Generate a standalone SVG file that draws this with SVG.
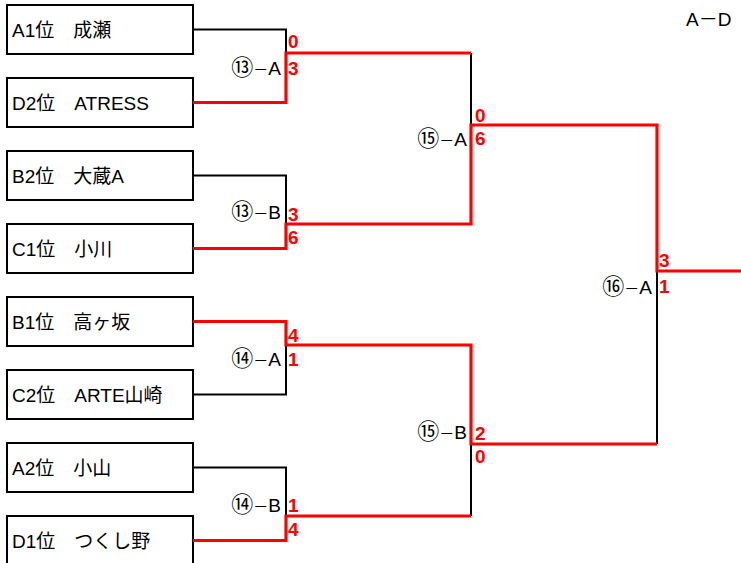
<svg xmlns="http://www.w3.org/2000/svg" width="741" height="563" viewBox="0 0 741 563">
<style>
.box{fill:#fff;stroke:#000;stroke-width:2}
.nm{font-family:"Liberation Sans","Noto Sans CJK JP",sans-serif;font-size:19px;fill:#000}
.lb{font-family:"Liberation Sans","Noto Sans CJK JP",sans-serif;font-size:19px;fill:#000;text-anchor:end}
.cn{font-size:22px}
.ds{font-size:15px}
.sc{font-family:"Liberation Sans","Noto Sans CJK JP",sans-serif;font-size:19px;font-weight:bold;fill:#f00}
.bk{fill:none;stroke:#000;stroke-width:2}
.rd{fill:none;stroke:#f00;stroke-width:3.2}
</style>
<rect width="741" height="563" fill="#fff"/>
<g id="n1"><rect class="box" x="7" y="5" width="186" height="49"/><text class="nm" x="12" y="37">A1位　成瀬</text></g>
<g id="n2"><rect class="box" x="7" y="78" width="186" height="49"/><text class="nm" x="12" y="110">D2位　ATRESS</text></g>
<g id="n3"><rect class="box" x="7" y="151" width="186" height="49"/><text class="nm" x="12" y="183">B2位　大蔵A</text></g>
<g id="n4"><rect class="box" x="7" y="224" width="186" height="49"/><text class="nm" x="12" y="256">C1位　小川</text></g>
<g id="n5"><rect class="box" x="7" y="297" width="186" height="49"/><text class="nm" x="12" y="329">B1位　高ヶ坂</text></g>
<g id="n6"><rect class="box" x="7" y="370" width="186" height="49"/><text class="nm" x="12" y="402">C2位　ARTE山崎</text></g>
<g id="n7"><rect class="box" x="7" y="443" width="186" height="49"/><text class="nm" x="12" y="475">A2位　小山</text></g>
<g id="n8"><rect class="box" x="7" y="516" width="186" height="49"/><text class="nm" x="12" y="548">D1位　つくし野</text></g>
<g id="connectors">
<path class="bk" d="M193 29.5H286V53"/>
<path class="bk" d="M471 53V125"/>
<path class="bk" d="M193 175.5H286V224"/>
<path class="bk" d="M193 394.5H286V345"/>
<path class="bk" d="M193 467.5H286V516"/>
<path class="bk" d="M471 516V444"/>
<path class="bk" d="M657 444V271"/>
<path class="rd" d="M193 102.5H286V53H471"/>
<path class="rd" d="M193 248.5H286V224H471V125H657V271H741"/>
<path class="rd" d="M193 321.5H286V345H471V444H657"/>
<path class="rd" d="M193 540.5H286V516H471"/>
</g>
<g id="labels">
<text class="lb" x="281" y="75"><tspan class="cn">⑬</tspan><tspan class="ds">－</tspan>A</text>
<text class="lb" x="281" y="219"><tspan class="cn">⑬</tspan><tspan class="ds">－</tspan>B</text>
<text class="lb" x="281" y="366"><tspan class="cn">⑭</tspan><tspan class="ds">－</tspan>A</text>
<text class="lb" x="281" y="512"><tspan class="cn">⑭</tspan><tspan class="ds">－</tspan>B</text>
<text class="lb" x="467" y="146"><tspan class="cn">⑮</tspan><tspan class="ds">－</tspan>A</text>
<text class="lb" x="467" y="439"><tspan class="cn">⑮</tspan><tspan class="ds">－</tspan>B</text>
<text class="lb" x="652" y="294"><tspan class="cn">⑯</tspan><tspan class="ds">－</tspan>A</text>
<text class="nm" x="686" y="26">A－D</text>
</g>
<g id="scores">
<text class="sc" x="288" y="48">0</text>
<text class="sc" x="288" y="75">3</text>
<text class="sc" x="288" y="221">3</text>
<text class="sc" x="288" y="244">6</text>
<text class="sc" x="288" y="342">4</text>
<text class="sc" x="288" y="366">1</text>
<text class="sc" x="288" y="512">1</text>
<text class="sc" x="288" y="536">4</text>
<text class="sc" x="475" y="122">0</text>
<text class="sc" x="475" y="145">6</text>
<text class="sc" x="475" y="440">2</text>
<text class="sc" x="475" y="463">0</text>
<text class="sc" x="659" y="267">3</text>
<text class="sc" x="659" y="293">1</text>
</g>
</svg>
